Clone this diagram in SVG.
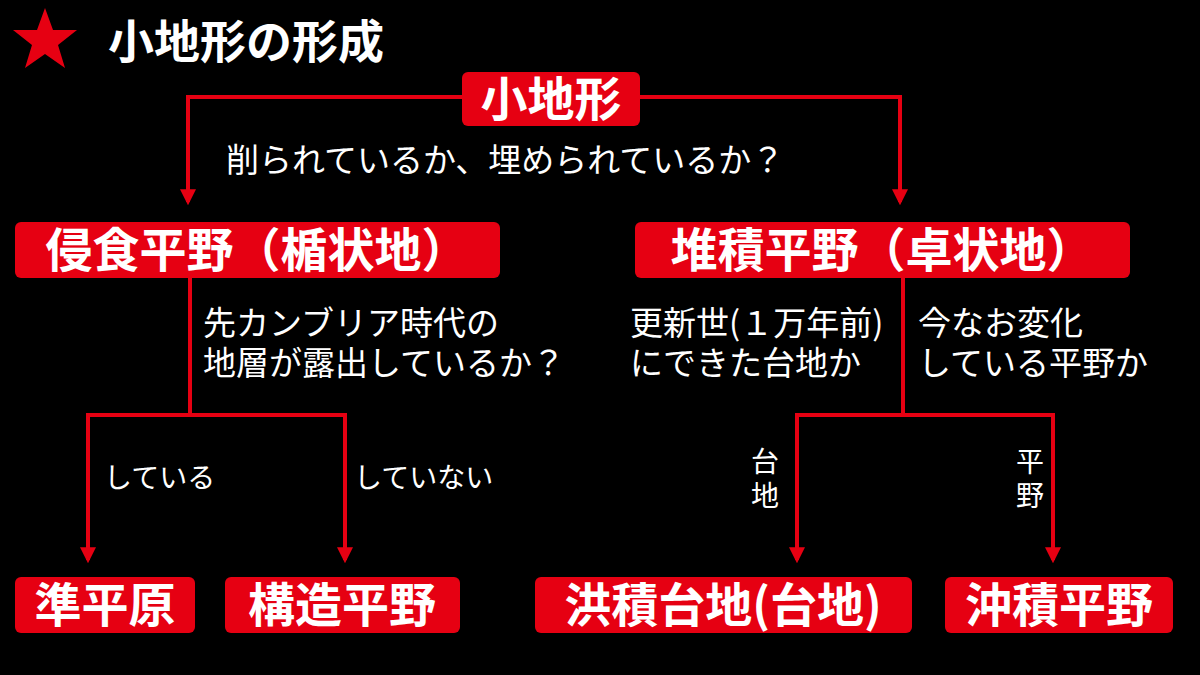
<svg xmlns="http://www.w3.org/2000/svg" width="1200" height="675" viewBox="0 0 1200 675">
<defs>
<style>
.box{fill:#e60012}
.bt{fill:#fff;font-family:"Noto Sans CJK JP",sans-serif;font-weight:bold;font-size:47px;text-anchor:middle}
.t{fill:#fff;font-family:"Noto Sans CJK JP",sans-serif;font-size:33px}
.s{fill:#fff;font-family:"Noto Sans CJK JP",sans-serif;font-size:28px}
.ln{stroke:#e60012;stroke-width:4;fill:none}
</style>
<marker id="a" viewBox="0 0 10 10" refX="8" refY="5" markerWidth="4" markerHeight="4" orient="auto"><path d="M0,0L10,5L0,10z" fill="#e60012"/></marker>
</defs>
<rect width="1200" height="675" fill="#000"/>
<polygon fill="#e60012" points="45,8 53,30 77,30 58,45 65,68 45,54 25,68 32,45 13,30 37,30"/>
<text x="108" y="58" fill="#fff" font-family="Noto Sans CJK JP,sans-serif" font-weight="bold" font-size="46">小地形の形成</text>
<g id="connectors">
<path class="ln" marker-end="url(#a)" d="M462,97H188V202"/>
<path class="ln" marker-end="url(#a)" d="M640,97H900V202"/>
<path class="ln" d="M190,278V415"/>
<path class="ln" marker-end="url(#a)" d="M88,415V560"/>
<path class="ln" marker-end="url(#a)" d="M345,415V560"/>
<path class="ln" d="M86,415H347"/>
<path class="ln" d="M903,278V415"/>
<path class="ln" d="M795,415H1055"/>
<path class="ln" marker-end="url(#a)" d="M797,415V560"/>
<path class="ln" marker-end="url(#a)" d="M1053,415V560"/>
</g>
<g id="n0"><rect class="box" x="462" y="72" width="178" height="54" rx="6"/><text class="bt" x="551" y="116">小地形</text></g>
<text class="t" x="226" y="172">削られているか、埋められているか？</text>
<g id="n1"><rect class="box" x="15" y="222" width="485" height="56" rx="6"/><text class="bt" x="257" y="267">侵食平野（楯状地）</text></g>
<g id="n2"><rect class="box" x="635" y="222" width="495" height="56" rx="6"/><text class="bt" x="882" y="267">堆積平野（卓状地）</text></g>
<text class="t" x="203" y="335">先カンブリア時代の</text>
<text class="t" x="203" y="375">地層が露出しているか？</text>
<text class="t" x="630" y="335">更新世(１万年前)</text>
<text class="t" x="630" y="375">にできた台地か</text>
<text class="t" x="918" y="335">今なお変化</text>
<text class="t" x="918" y="375">している平野か</text>
<text class="s" x="104" y="488">している</text>
<text class="s" x="354" y="488">していない</text>
<text class="s" x="751" y="472">台</text>
<text class="s" x="751" y="506">地</text>
<text class="s" x="1016" y="472">平</text>
<text class="s" x="1016" y="506">野</text>
<g id="n3"><rect class="box" x="15" y="577" width="180" height="56" rx="6"/><text class="bt" x="105" y="622">準平原</text></g>
<g id="n4"><rect class="box" x="225" y="577" width="235" height="56" rx="6"/><text class="bt" x="342" y="622">構造平野</text></g>
<g id="n5"><rect class="box" x="535" y="577" width="377" height="56" rx="6"/><text class="bt" x="723" y="622">洪積台地(台地)</text></g>
<g id="n6"><rect class="box" x="945" y="577" width="228" height="56" rx="6"/><text class="bt" x="1059" y="622">沖積平野</text></g>
</svg>
